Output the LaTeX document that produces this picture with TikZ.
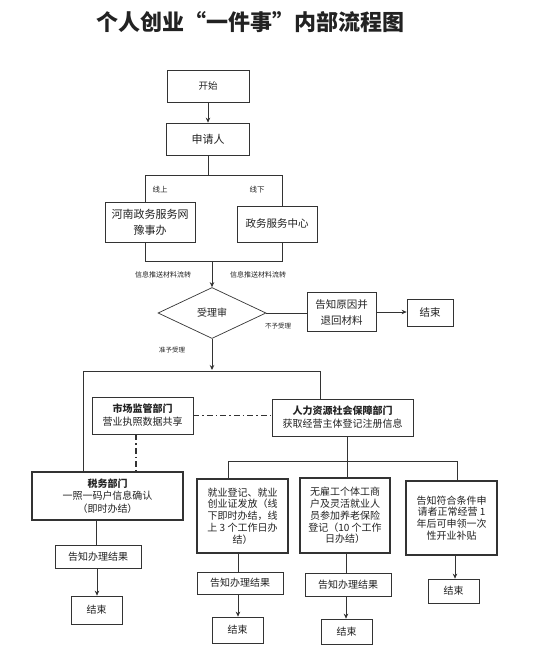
\documentclass[tikz,border=0pt]{standalone}
\usepackage{fontspec}
\setmainfont{Noto Sans CJK SC}
\usetikzlibrary{shapes.geometric,arrows.meta}
\definecolor{ln}{HTML}{333333}
\definecolor{tx}{HTML}{222222}
\tikzset{
  box/.style={draw=ln, line width=0.7pt, rectangle, inner sep=0pt, align=center, text=tx, font=\fontsize{10}{12}\selectfont},
  tbox/.style={box, line width=1.4pt},
  conn/.style={draw=ln, line width=0.9pt},
  arr/.style={conn, -{Stealth[length=5pt,width=4.5pt]}},
  dd/.style={draw=ln, line width=1.1pt, dash pattern=on 6pt off 3pt on 1.5pt off 3pt},
  lab/.style={text=tx, inner sep=0pt, font=\fontsize{6.5}{7}\selectfont},
}
\begin{document}
\begin{tikzpicture}[x=1pt,y=-1pt]
\useasboundingbox (0,0) rectangle (533,667);
\node[text=tx, font=\bfseries\fontsize{22}{24}\selectfont] (title) at (250,22) {个人创业“一件事”内部流程图};

\node[box, minimum width=82pt, minimum height=32pt, font=\fontsize{9.5}{11}\selectfont] (start) at (208,86) {开始};
\node[box, minimum width=83pt, minimum height=32pt, font=\fontsize{11}{12}\selectfont] (apply) at (208,139) {申请人};
\node[box, minimum width=90pt, minimum height=40pt, font=\fontsize{11}{16}\selectfont] (henan) at (150,222) {河南政务服务网\\豫事办};
\node[box, minimum width=80pt, minimum height=36pt, font=\fontsize{10.5}{12}\selectfont] (center) at (277,224) {政务服务中心};
\node[draw=ln, line width=0.7pt, shape=diamond, minimum width=108pt, minimum height=51pt, inner sep=0pt, text=tx, font=\fontsize{10}{11}\selectfont] (judge) at (212,313) {受理审};
\node[box, minimum width=69pt, minimum height=39pt, font=\fontsize{10.5}{16}\selectfont] (reason) at (341.5,312) {告知原因并\\退回材料};
\node[box, minimum width=46pt, minimum height=27pt, font=\fontsize{10.5}{12}\selectfont] (end0) at (430,312.5) {结束};

\node[box, minimum width=101pt, minimum height=37pt, font=\fontsize{10}{13}\selectfont] (market) at (142.5,415.5) {\textbf{市场监管部门}\\营业执照数据共享};
\node[box, minimum width=141pt, minimum height=37pt, font=\fontsize{10}{13}\selectfont] (hr) at (342.5,417.5) {\textbf{人力资源社会保障部门}\\获取经营主体登记注册信息};

\node[tbox, minimum width=151pt, minimum height=48pt, font=\fontsize{10}{12.5}\selectfont] (tax) at (107.5,496) {\textbf{税务部门}\\一照一码户信息确认\\（即时办结）};
\node[tbox, minimum width=91pt, minimum height=74pt, font=\fontsize{10}{11.8}\selectfont] (b1) at (242.5,516) {就业登记、就业\\创业证发放（线\\下即时办结，线\\上 3 个工作日办\\结）};
\node[tbox, minimum width=90pt, minimum height=75pt, font=\fontsize{10}{11.8}\selectfont] (b2) at (345,515.5) {无雇工个体工商\\户及灵活就业人\\员参加养老保险\\登记（10 个工作\\日办结）};
\node[tbox, minimum width=91pt, minimum height=74pt, font=\fontsize{10}{11.8}\selectfont] (b3) at (451.5,518) {告知符合条件申\\请者正常经营 1\\年后可申领一次\\性开业补贴};

\node[box, minimum width=86pt, minimum height=23pt] (n0) at (98,556.5) {告知办理结果};
\node[box, minimum width=51pt, minimum height=28pt] (e0) at (96.5,610) {结束};
\node[box, minimum width=86pt, minimum height=22pt] (n1) at (240,583) {告知办理结果};
\node[box, minimum width=51pt, minimum height=26pt] (e1) at (237.5,630) {结束};
\node[box, minimum width=86pt, minimum height=23pt] (n2) at (348,584.5) {告知办理结果};
\node[box, minimum width=51pt, minimum height=25pt] (e2) at (346.5,631.5) {结束};
\node[box, minimum width=51pt, minimum height=24pt] (e3) at (453.5,591) {结束};

% labels
\node[lab, font=\fontsize{7.5}{9}\selectfont] (on) at (160,190) {线上};
\node[lab, font=\fontsize{7.5}{9}\selectfont] (off) at (257,190) {线下};
\node[lab, font=\fontsize{7}{8}\selectfont] (info1) at (163,275) {信息推送材料流转};
\node[lab, font=\fontsize{7}{8}\selectfont] (info2) at (258,275) {信息推送材料流转};
\node[lab] (rej) at (278,326) {不予受理};
\node[lab] (acc) at (172,350) {准予受理};

% coordinates
\coordinate (s1) at (208,175);
\coordinate (s1l) at (145,175);
\coordinate (s1r) at (282,175);
\coordinate (j1l) at (145,261);
\coordinate (j1r) at (282,261);
\coordinate (j1) at (212,261);
\coordinate (s2) at (212,370);
\coordinate (s2l) at (83,371);
\coordinate (s2r) at (320,371);
\coordinate (s3) at (347,461);
\coordinate (s3l) at (228,461);
\coordinate (s3r) at (457,461);

% connectors
\draw[arr] (start) -- (apply);
\draw[conn] (apply) -- (s1);
\draw[conn] (s1l |- henan.north) -- (s1l) -- (s1r) -- (s1r |- center.north);
\draw[conn] (j1l |- henan.south) -- (j1l) -- (j1r) -- (j1r |- center.south);
\draw[arr] (j1) -- (judge.north);
\draw[conn] (judge.east) -- (judge.east -| reason.west);
\draw[arr] (reason.east) -- (reason.east -| end0.west);
\draw[arr] (judge.south) -- (s2);
\draw[conn] (s2l |- tax.north) -- (s2l) -- (s2r) -- (s2r |- hr.north);
\draw[dd] (market.east) -- (market.east -| hr.west);
\draw[dd] (136,0 |- market.south) -- (136,0 |- tax.north);
\draw[conn] (s3 |- hr.south) -- (s3);
\draw[conn] (s3l |- b1.north) -- (s3l) -- (s3r) -- (s3r |- b3.north);
\draw[conn] (s3) -- (s3 |- b2.north);
\draw[conn] (96,0 |- tax.south) -- (96,0 |- n0.north);
\draw[arr] (97,0 |- n0.south) -- (97,0 |- e0.north);
\draw[conn] (238,0 |- b1.south) -- (238,0 |- n1.north);
\draw[arr] (238,0 |- n1.south) -- (238,0 |- e1.north);
\draw[conn] (346,0 |- b2.south) -- (346,0 |- n2.north);
\draw[arr] (346,0 |- n2.south) -- (346,0 |- e2.north);
\draw[arr] (455,0 |- b3.south) -- (455,0 |- e3.north);
\end{tikzpicture}
\end{document}
